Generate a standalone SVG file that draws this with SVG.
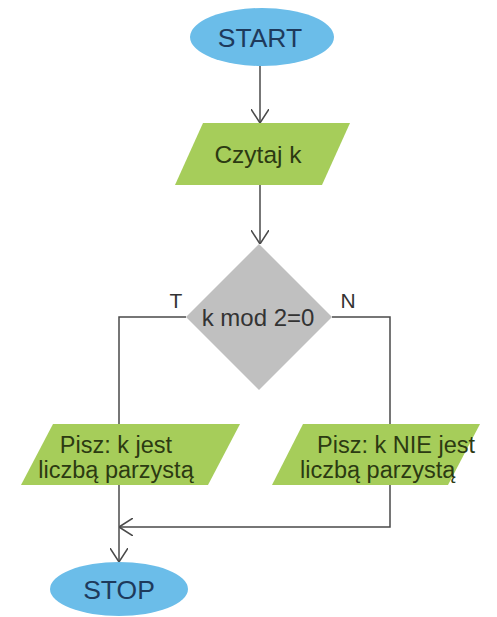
<svg xmlns="http://www.w3.org/2000/svg" width="497" height="617" viewBox="0 0 497 617">
  <style>
    .term { fill: #6bbde9; }
    .term-text { fill: #1e3a5c; font-family: "Liberation Sans", Arial, sans-serif; font-size: 26.5px; text-anchor: middle; }
    .io { fill: #a6cd5a; }
    .io-text { fill: #2c3a12; font-family: "Liberation Sans", Arial, sans-serif; font-size: 23.5px; }
    .dec { fill: #c0c0c0; }
    .dec-text { fill: #333333; font-family: "Liberation Sans", Arial, sans-serif; font-size: 24px; text-anchor: middle; }
    .lbl { fill: #333333; font-family: "Liberation Sans", Arial, sans-serif; font-size: 21px; text-anchor: middle; }
    .wire { fill: none; stroke: #4a4a4a; stroke-width: 1.5; }
  </style>
  <defs>
    <marker id="arrow" markerUnits="userSpaceOnUse" viewBox="0 0 14 18" refX="14" refY="9" markerWidth="14" markerHeight="18" orient="auto">
      <path d="M0,0 L14,9 L0,18" fill="none" stroke="#4a4a4a" stroke-width="1.5"/>
    </marker>
  </defs>

  <!-- connectors -->
  <g id="connectors">
    <path class="wire" d="M260,66 L260,123" marker-end="url(#arrow)"/>
    <path class="wire" d="M260,185 L260,244" marker-end="url(#arrow)"/>
    <path class="wire" d="M186,317 L119,317 L119,424"/>
    <path class="wire" d="M332,317 L390,317 L390,424"/>
    <path class="wire" d="M390,485 L390,527 L119,527" marker-end="url(#arrow)"/>
    <path class="wire" d="M119,485 L119,562" marker-end="url(#arrow)"/>
  </g>

  <!-- nodes -->
  <g id="start">
    <ellipse class="term" cx="262" cy="37" rx="72" ry="29"/>
    <text class="term-text" x="260" y="47">START</text>
  </g>

  <g id="read-k">
    <polygon class="io" points="203,123 350,123 322,185 175,185"/>
    <text class="io-text" x="258" y="163" text-anchor="middle" style="font-size:24.5px">Czytaj k</text>
  </g>

  <g id="decision">
    <polygon class="dec" points="259,244 332,317 259,390 186,317"/>
    <text class="dec-text" x="258" y="326">k mod 2=0</text>
  </g>

  <g id="labels">
    <text class="lbl" x="176" y="308">T</text>
    <text class="lbl" x="348" y="308">N</text>
  </g>

  <g id="write-even">
    <polygon class="io" points="53,424 240,424 208,485 21,485"/>
    <text class="io-text" x="116" y="453" text-anchor="middle">Pisz: k jest</text>
    <text class="io-text" x="116" y="478" text-anchor="middle">liczbą parzystą</text>
  </g>

  <g id="write-odd">
    <polygon class="io" points="303,424 480,424 448,485 272,485"/>
    <text class="io-text" x="317" y="453">Pisz: k NIE jest</text>
    <text class="io-text" x="300" y="478">liczbą parzystą</text>
  </g>

  <g id="stop">
    <ellipse class="term" cx="119" cy="589" rx="69" ry="27"/>
    <text class="term-text" x="119" y="599">STOP</text>
  </g>
</svg>
